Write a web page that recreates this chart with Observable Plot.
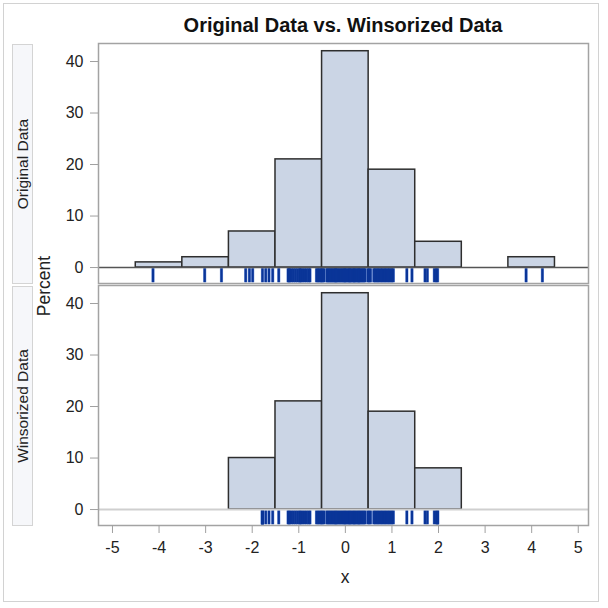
<!DOCTYPE html>
<html><head><meta charset="utf-8">
<script src="https://cdn.jsdelivr.net/npm/d3@7"></script>
<script src="https://cdn.jsdelivr.net/npm/@observablehq/plot@0.6"></script>
<style>
body{margin:0;background:#fff;font-family:"Liberation Sans",Arial,sans-serif;}
#wrap{position:relative;width:608px;height:608px;overflow:hidden;background:#fff;}
#wrap svg{position:absolute;left:0;top:0;}
.ov{position:absolute;pointer-events:none;}
.border{left:3px;top:3px;width:596px;height:599px;box-sizing:border-box;border:1px solid #d2d2d2;}
.title{left:98px;top:15px;width:490px;text-align:center;font-weight:bold;font-size:20px;line-height:20px;color:#111;}
.strip{left:12px;width:21px;box-sizing:border-box;border:1px solid #d4d4d4;background:#f6f7fa;}
.rot{position:absolute;left:50%;top:50%;transform:translate(-50%,-50%) rotate(-90deg);white-space:nowrap;line-height:1;}
.strip .rot{font-size:15.5px;color:#222;}
.axlab{font-size:17.5px;color:#222;white-space:nowrap;line-height:1;}
</style></head><body><div id="wrap"></div>
<script>
const panels = ["Original Data", "Winsorized Data"];
const binCenters = [-4, -3, -2, -1, 0, 1, 2, 3, 4];
const binWidth = 1;
const originalPct = [1, 2, 7, 21, 42, 19, 5, 0, 2];
const winsorizedPct = [0, 0, 10, 21, 42, 19, 8, 0, 0];
const originalX = [
  -4.13, -3.02, -2.66, -2.14, -2.06, -1.99, -1.78, -1.71, -1.64, -1.56,
  -1.43, -1.23, -1.21, -1.19, -1.15, -1.11, -1.07, -1.03, -0.99, -0.97, -0.95, -0.91, -0.87, -0.83, -0.79, -0.76,
  -0.62, -0.59, -0.56, -0.53, -0.51,
  -0.49, -0.46, -0.40, -0.38, -0.35, -0.33, -0.30, -0.28, -0.25, -0.23, -0.21, -0.20, -0.18, -0.15, -0.13,
  -0.10, -0.08, -0.05, -0.03, -0.01, 0.00, 0.02, 0.05, 0.07, 0.09, 0.10, 0.12, 0.15, 0.17, 0.19, 0.20,
  0.22, 0.25, 0.27, 0.29, 0.30, 0.32, 0.35, 0.37, 0.40, 0.42, 0.48,
  0.51, 0.54, 0.61, 0.64, 0.67, 0.70, 0.73, 0.76, 0.79, 0.82, 0.85, 0.88, 0.91, 0.94, 0.97, 1.00, 1.03,
  1.32, 1.43, 1.71, 1.76, 1.91, 1.95, 1.98, 3.88, 4.23
];
const winsorizedX = [
  -1.78, -1.78, -1.78, -1.78, -1.78, -1.78, -1.78, -1.71, -1.64, -1.56,
  -1.43, -1.23, -1.21, -1.19, -1.15, -1.11, -1.07, -1.03, -0.99, -0.97, -0.95, -0.91, -0.87, -0.83, -0.79, -0.76,
  -0.62, -0.59, -0.56, -0.53, -0.51,
  -0.49, -0.46, -0.40, -0.38, -0.35, -0.33, -0.30, -0.28, -0.25, -0.23, -0.21, -0.20, -0.18, -0.15, -0.13,
  -0.10, -0.08, -0.05, -0.03, -0.01, 0.00, 0.02, 0.05, 0.07, 0.09, 0.10, 0.12, 0.15, 0.17, 0.19, 0.20,
  0.22, 0.25, 0.27, 0.29, 0.30, 0.32, 0.35, 0.37, 0.40, 0.42, 0.48,
  0.51, 0.54, 0.61, 0.64, 0.67, 0.70, 0.73, 0.76, 0.79, 0.82, 0.85, 0.88, 0.91, 0.94, 0.97, 1.00, 1.03,
  1.32, 1.43, 1.71, 1.76, 1.91, 1.95, 1.98, 1.98, 1.98
];
const xTicks = [-5, -4, -3, -2, -1, 0, 1, 2, 3, 4, 5];
const yTicks = [0, 10, 20, 30, 40];

const barRows = [];
[originalPct, winsorizedPct].forEach((vals, i) => {
  binCenters.forEach((c, j) => {
    if (vals[j] > 0) barRows.push({panel: panels[i], x1: c - binWidth / 2, x2: c + binWidth / 2, pct: vals[j]});
  });
});
const rugRows = originalX.map(v => ({panel: panels[0], v}))
  .concat(winsorizedX.map(v => ({panel: panels[1], v})));
const zeroRows = panels.map(p => ({panel: p, y: 0}));

const chart = Plot.plot({
  width: 608, height: 608,
  marginLeft: 98, marginRight: 20, marginTop: 43, marginBottom: 82,
  style: {fontFamily: '"Liberation Sans", Arial, sans-serif', fontSize: "16px", color: "#222", background: "transparent", overflow: "visible"},
  x: {domain: [-5.3, 5.22]},
  y: {domain: [-3.1, 43.5]},
  fy: {domain: panels, paddingInner: 0.008, paddingOuter: 0, axis: null},
  marks: [
    Plot.ruleX(rugRows, {x: "v", fy: "panel", y1: -0.25, y2: -2.95, stroke: "#86a3e2", strokeWidth: 3.2}),
    Plot.ruleX(rugRows, {x: "v", fy: "panel", y1: -0.25, y2: -2.95, stroke: "#0a3598", strokeWidth: 2.3}),
    Plot.rect(barRows, {x1: "x1", x2: "x2", y1: 0, y2: "pct", fy: "panel", fill: "#cbd5e5", stroke: "#2e2e2e", strokeWidth: 1.5}),
    Plot.ruleY(zeroRows.filter(d => d.panel === panels[1]), {y: "y", fy: "panel", stroke: "#cfcfcf", strokeWidth: 2}),
    Plot.ruleY(zeroRows.filter(d => d.panel === panels[0]), {y: "y", fy: "panel", stroke: "#555", strokeWidth: 1.5}),
    Plot.frame({stroke: "#a3a3a3", strokeWidth: 1.5}),
    Plot.axisY({ticks: yTicks, tickSize: 8, tickPadding: 7, stroke: "#a0a0a0", color: "#222", label: null, tickFormat: d => String(d)}),
    Plot.axisX({ticks: xTicks, tickSize: 8, tickPadding: 8, stroke: "#a0a0a0", color: "#222", label: null, tickFormat: d => String(d)})
  ]
});

const wrap = document.getElementById("wrap");
wrap.appendChild(chart);
function ov(cls, css, html) {
  const d = document.createElement("div");
  d.className = "ov " + cls;
  Object.assign(d.style, css);
  if (html != null) d.innerHTML = html;
  wrap.appendChild(d);
  return d;
}
ov("border", {});
ov("title", {}, "Original Data vs. Winsorized Data");
ov("strip", {top: "44px", height: "240px"}, '<div class="rot">' + panels[0] + '</div>');
ov("strip", {top: "286px", height: "240px"}, '<div class="rot">' + panels[1] + '</div>');
ov("axlab", {left: "44.5px", top: "285.5px", transform: "translate(-50%,-50%) rotate(-90deg)"}, "Percent");
ov("axlab", {left: "345px", top: "578px", transform: "translate(-50%,-50%)"}, "x");
</script></body></html>
